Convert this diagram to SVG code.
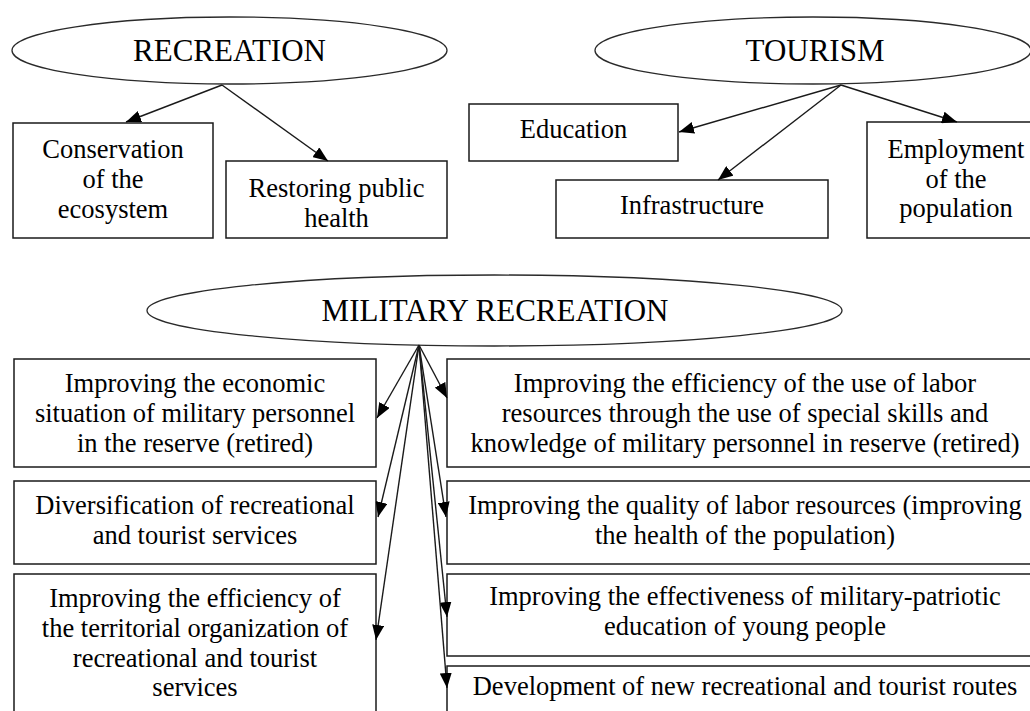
<svg xmlns="http://www.w3.org/2000/svg" width="1030" height="711" viewBox="0 0 1030 711">
<style>
  .box { fill: #fff; stroke: #1a1a1a; stroke-width: 1.5; }
  .ell { fill: #fff; stroke: #2a2a2a; stroke-width: 1.3; }
  .t { font-family: 'Liberation Serif', 'Times New Roman', serif; font-size: 26.5px; fill: #000; text-anchor: middle; }
  .h { font-family: 'Liberation Serif', 'Times New Roman', serif; font-size: 31px; fill: #000; text-anchor: middle; }
  .c { stroke: #1a1a1a; stroke-width: 1.4; fill: none; marker-end: url(#ah); }
</style>
<defs>
  <marker id="ah" markerUnits="userSpaceOnUse" markerWidth="16" markerHeight="12" refX="15" refY="6" orient="auto">
    <path d="M0,0 L15,6 L0,12 z" fill="#000"/>
  </marker>
</defs>
<rect width="1030" height="711" fill="#fff"/>

<g id="recreation">
  <ellipse class="ell" cx="229.5" cy="50.5" rx="217.5" ry="33.5"/>
  <text class="h" x="229.5" y="61">RECREATION</text>
</g>
<g id="tourism">
  <ellipse class="ell" cx="813" cy="50.5" rx="218" ry="33.5"/>
  <text class="h" x="815" y="61">TOURISM</text>
</g>
<g id="conservation">
  <rect class="box" x="13" y="123" width="200" height="115"/>
  <text class="t" x="113" y="158">Conservation</text>
  <text class="t" x="113" y="188">of the</text>
  <text class="t" x="113" y="218">ecosystem</text>
</g>
<g id="restoring">
  <rect class="box" x="226" y="161" width="221" height="77"/>
  <text class="t" x="336.5" y="197">Restoring public</text>
  <text class="t" x="336.5" y="227">health</text>
</g>
<g id="education">
  <rect class="box" x="469" y="104" width="209" height="57"/>
  <text class="t" x="573.5" y="138">Education</text>
</g>
<g id="infrastructure">
  <rect class="box" x="556" y="180" width="272" height="58"/>
  <text class="t" x="692" y="214">Infrastructure</text>
</g>
<g id="employment">
  <rect class="box" x="867" y="122" width="178" height="116"/>
  <text class="t" x="956" y="158">Employment</text>
  <text class="t" x="956" y="188">of the</text>
  <text class="t" x="956" y="217">population</text>
</g>

<g id="military">
  <ellipse class="ell" cx="494.5" cy="310.5" rx="347.5" ry="35.5"/>
  <text class="h" x="495" y="321">MILITARY RECREATION</text>
</g>

<g id="l1">
  <rect class="box" x="14" y="359" width="362" height="108"/>
  <text class="t" x="195" y="392">Improving the economic</text>
  <text class="t" x="195" y="422">situation of military personnel</text>
  <text class="t" x="195" y="452">in the reserve (retired)</text>
</g>
<g id="l2">
  <rect class="box" x="14" y="481" width="362" height="83"/>
  <text class="t" x="195" y="514">Diversification of recreational</text>
  <text class="t" x="195" y="544">and tourist services</text>
</g>
<g id="l3">
  <rect class="box" x="14" y="574" width="362" height="145"/>
  <text class="t" x="195" y="607">Improving the efficiency of</text>
  <text class="t" x="195" y="637">the territorial organization of</text>
  <text class="t" x="195" y="667">recreational and tourist</text>
  <text class="t" x="195" y="696">services</text>
</g>
<g id="r1">
  <rect class="box" x="447" y="359" width="596" height="108"/>
  <text class="t" x="745" y="392">Improving the efficiency of the use of labor</text>
  <text class="t" x="745" y="422">resources through the use of special skills and</text>
  <text class="t" x="745" y="452">knowledge of military personnel in reserve (retired)</text>
</g>
<g id="r2">
  <rect class="box" x="447" y="481" width="596" height="83"/>
  <text class="t" x="745" y="514">Improving the quality of labor resources (improving</text>
  <text class="t" x="745" y="544">the health of the population)</text>
</g>
<g id="r3">
  <rect class="box" x="447" y="574" width="596" height="82"/>
  <text class="t" x="745" y="605">Improving the effectiveness of military-patriotic</text>
  <text class="t" x="745" y="635">education of young people</text>
</g>
<g id="r4">
  <rect class="box" x="447" y="666" width="596" height="60"/>
  <text class="t" x="745" y="695">Development of new recreational and tourist routes</text>
</g>

<g id="connectors">
  <line class="c" x1="222" y1="85" x2="126" y2="122"/>
  <line class="c" x1="222" y1="85" x2="328" y2="161"/>
  <line class="c" x1="841" y1="85" x2="679" y2="132"/>
  <line class="c" x1="841" y1="85" x2="718" y2="180"/>
  <line class="c" x1="841" y1="85" x2="957" y2="122"/>
  <line class="c" x1="419" y1="345" x2="377" y2="418"/>
  <line class="c" x1="419" y1="345" x2="447" y2="398"/>
  <line class="c" x1="419" y1="345" x2="378" y2="517"/>
  <line class="c" x1="419" y1="345" x2="446" y2="517"/>
  <line class="c" x1="419" y1="345" x2="376" y2="640"/>
  <line class="c" x1="419" y1="345" x2="447" y2="617"/>
  <line class="c" x1="419" y1="345" x2="447" y2="688"/>
</g>
</svg>
